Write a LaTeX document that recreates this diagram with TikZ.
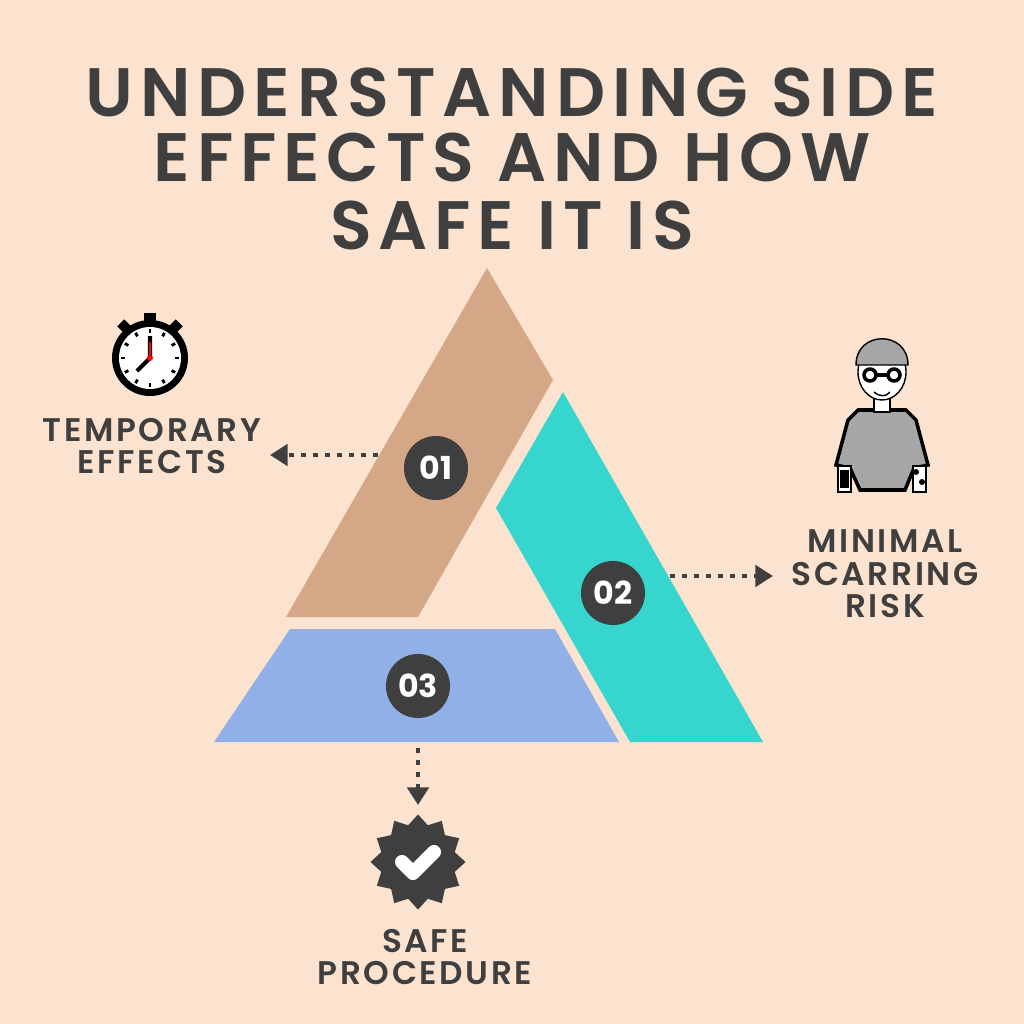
\documentclass[tikz,border=0pt]{standalone}
\usepackage{fontspec}
\setmainfont{Poppins}
\newfontfamily\tfont[LetterSpace=10]{Poppins SemiBold}
\newfontfamily\lfont[LetterSpace=8]{Poppins SemiBold}
\usetikzlibrary{arrows.meta,shapes.geometric}
\definecolor{bg}{HTML}{FCE3CF}
\definecolor{ink}{HTML}{3F3F3F}
\definecolor{brn}{HTML}{D4A886}
\definecolor{tea}{HTML}{36D6CE}
\definecolor{blu}{HTML}{92B0E8}
\tikzset{
 title/.style={text=ink,font=\tfont\fontsize{19.5}{22}\selectfont,anchor=center,inner sep=0pt},
 lab/.style={text=ink,font=\lfont\fontsize{9.3}{9.2}\selectfont,align=center},
 num/.style={circle,fill=ink,minimum size=0.64cm,inner sep=0pt,text=white,font=\fontsize{9}{11}\selectfont\bfseries},
 conn/.style={ink,line width=1.4pt,dotted,-{Triangle[length=5pt,width=6pt]}},
}
\begin{document}
\begin{tikzpicture}[x=0.01cm,y=-0.01cm]
\useasboundingbox (0,0) rectangle (1024,1024);
\fill[bg] (0,0) rectangle (1024,1024);
\node[title] (t1) at (512,92) {UNDERSTANDING SIDE};
\node[title] (t2) at (512,157) {EFFECTS AND HOW};
\node[title] (t3) at (512,225) {SAFE IT IS};
\fill[brn] (487,268) -- (553,380) -- (418,617) -- (286,617) -- cycle;
\fill[tea] (563,392) -- (763,742) -- (630,742) -- (496,508) -- cycle;
\fill[blu] (290,629) -- (555,629) -- (619,742) -- (214,742) -- cycle;
\node[num] (n1) at (436,468) {01};
\node[num] (n2) at (613,593) {02};
\node[num] (n3) at (418,686) {03};
\coordinate (a1s) at (378,455); \coordinate (a1e) at (270,455);
\coordinate (a2s) at (670,576); \coordinate (a2e) at (773,576);
\coordinate (a3s) at (418,748); \coordinate (a3e) at (418,805);
\draw[conn] (a1s) -- (a1e);
\draw[conn] (a2s) -- (a2e);
\draw[conn] (a3s) -- (a3e);
\node[lab] (l1) at (152,446) {TEMPORARY\\EFFECTS};
\node[lab] (l2) at (885,574) {MINIMAL\\SCARRING\\RISK};
\node[lab] (l3) at (425,957) {SAFE\\PROCEDURE};
% stopwatch
\fill[black] (144,313) rectangle (156,322);
\draw[black,line width=3pt] (121,330) -- (128,323) (179,330) -- (172,323);
\fill[black] (150,358) circle (38);
\fill[white] (150,358) circle (31);
\foreach \a in {0,30,...,330} \draw[black,line width=0.8pt] (150,358) ++(\a:-25) -- ++(\a:-4);
\draw[black,line width=1.2pt] (150,358) -- (150,336) (150,358) -- (137,371);
\draw[red,line width=0.8pt] (150,358) -- (150,342);
\fill[red] (150,358) circle (3);
% badge
\node[star,star points=12,star point ratio=1.25,fill=ink,minimum size=0.95cm,inner sep=0pt] (bd) at (418,862) {};
\draw[white,line width=4pt,line cap=round,line join=round] (402,862) -- (413,873) -- (434,852);
% person
\fill[gray!70] (848,420) -- (858,410) -- (906,410) -- (916,420) -- (928,465) -- (914,468) -- (905,490) -- (860,490) -- (850,468) -- (836,465) -- cycle;
\draw[black,line width=1pt] (848,420) -- (858,410) -- (906,410) -- (916,420) -- (928,465) -- (914,468) -- (905,490) -- (860,490) -- (850,468) -- (836,465) -- cycle;
\fill[white,draw=black] (838,466) rectangle (851,492);
\fill[white,draw=black] (913,466) rectangle (926,492);
\fill[black] (840,470) rectangle (849,488);
\fill[black] (916,472) circle (3) (922,482) circle (3);
\fill[white,draw=black] (874,398) rectangle (890,412);
\fill[white,draw=black] (882,372) ellipse (24 and 28);
\fill[gray!70,draw=black] (856,365) .. controls (856,330) and (908,330) .. (908,365) -- cycle;
\draw[black,line width=1pt] (870,375) circle (6) (894,375) circle (6) (876,375) -- (888,375);
\draw[black] (874,392) .. controls (880,397) and (886,397) .. (890,392);
\end{tikzpicture}
\end{document}
